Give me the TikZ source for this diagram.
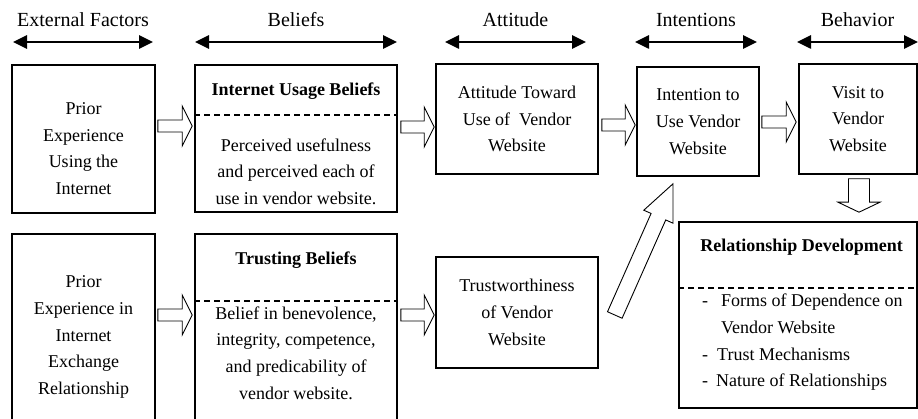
\documentclass[tikz,border=0pt]{standalone}
\usepackage{fontspec}
\setmainfont{Liberation Serif}
\usetikzlibrary{calc,arrows.meta,positioning}
\newcommand{\bodysize}{\fontsize{18}{26.7}\selectfont}
\newcommand{\hdrsize}{\fontsize{20}{24}\selectfont}
\tikzset{
  box/.style={draw=black, line width=1.6pt, inner sep=0pt},
  txt/.style={align=center, font=\bodysize, inner sep=0pt},
  ttl/.style={font=\bodysize\bfseries, inner sep=0pt},
  hdr/.style={font=\hdrsize, inner sep=0pt},
  span/.style={{Triangle[length=14pt,width=13pt]}-{Triangle[length=14pt,width=13pt]}, line width=2.6pt},
  divider/.style={line width=1.3pt, dash pattern=on 6pt off 4pt},
  hollow/.style={draw=black, line width=0.9pt, fill=white}
}
% hollow block arrow: from, to, shaft half width, head half width, head length
\newcommand{\hollowarrow}[5]{%
  \coordinate (ha-base) at ($(#2)!#5!(#1)$);
  \draw[hollow] ($(#1)!#3!90:(#2)$) -- ($(ha-base)!#3!90:(#2)$) -- ($(ha-base)!#4!90:(#2)$)
    -- (#2) -- ($(ha-base)!#4!-90:(#2)$) -- ($(ha-base)!#3!-90:(#2)$) -- ($(#1)!#3!-90:(#2)$) -- cycle;
}

\begin{document}
\begin{tikzpicture}[x=1pt, y=-1pt]
  \useasboundingbox (0,0) rectangle (918,419);
  \clip (0,0) rectangle (918,419);

  % stage headers
  \foreach \name/\xa/\xb [count=\i] in {External Factors/13/153, Beliefs/195/397,
      Attitude/445/586, Intentions/635/757, Behavior/797/918} {
    \coordinate (hl\i) at (\xa,42);
    \coordinate (hr\i) at (\xb,42);
    \draw[span] (hl\i) -- (hr\i);
    \node[hdr, anchor=base] (hd\i) at ($(hl\i)!.5!(hr\i)+(0,-15)$) {\name};
  }

  % top row
  \node[box, minimum width=143pt, minimum height=148pt] (prior1) at (83.5,139) {};
  \node[txt] (prior1txt) at (83.5,148.5) {Prior\\Experience\\Using the\\Internet};

  \node[box, minimum width=202pt, minimum height=147pt] (usage) at (296,138.5) {};
  \node[ttl, below=18pt of usage.north] (usagettl) {Internet Usage Beliefs};
  \draw[divider] (usage.west |- 0,115) -- (usage.east |- 0,115);
  \node[txt] (usagetxt) at (296,171.5) {Perceived usefulness\\and perceived each of\\use in vendor website.};

  \node[box, txt, minimum width=162pt, minimum height=110pt] (attitude) at (517,119)
    {Attitude Toward\\Use of~ Vendor\\Website};
  \node[box, txt, minimum width=122pt, minimum height=109pt] (intention) at (698,121.5)
    {Intention to\\Use Vendor\\Website};
  \node[box, txt, minimum width=118pt, minimum height=110pt] (visit) at (858,119)
    {Visit to\\Vendor\\Website};

  % bottom row
  \node[box, txt, minimum width=143pt, minimum height=206pt] (prior2) at (83.5,337)
    {Prior\\Experience in\\Internet\\Exchange\\Relationship};

  \node[box, minimum width=202pt, minimum height=206pt] (trusting) at (296,337) {};
  \node[ttl, below=18pt of trusting.north] (trustingttl) {Trusting Beliefs};
  \draw[divider] (trusting.west |- 0,301) -- (trusting.east |- 0,301);
  \node[txt] (trustingtxt) at (296,353)
    {Belief in benevolence,\\integrity, competence,\\and predicability of\\vendor website.};

  \node[box, txt, minimum width=162pt, minimum height=111pt] (trust) at (517,312.5)
    {Trustworthiness\\of Vendor\\Website};

  \node[box, minimum width=238pt, minimum height=186pt] (reldev) at (798,315) {};
  \node[ttl, anchor=north west] (reldevttl) at ($(reldev.north west)+(22,18)$) {Relationship Development};
  \draw[divider] (reldev.west |- 0,288) -- (reldev.east |- 0,288);
  \node[txt, align=left, anchor=west] (reldevtxt) at (702,342.5)
    {-\hspace{13pt}Forms of Dependence on\\\hspace*{19pt}Vendor Website\\-\hspace{9pt}Trust Mechanisms\\-\hspace{8pt}Nature of Relationships};

  % block arrows
  \coordinate (a1s) at ($(prior1.east |- 0,126)+(2,0)$);
  \coordinate (a1e) at ($(usage.west |- 0,126)+(-2,0)$);
  \hollowarrow{a1s}{a1e}{6pt}{20pt}{10pt}
  \coordinate (a2s) at ($(usage.east |- 0,127)+(3,0)$);
  \coordinate (a2e) at ($(attitude.west |- 0,127)+(-1,0)$);
  \hollowarrow{a2s}{a2e}{6pt}{20pt}{10pt}
  \coordinate (a3s) at ($(attitude.east |- 0,125)+(3,0)$);
  \coordinate (a3e) at ($(intention.west |- 0,125)+(-1,0)$);
  \hollowarrow{a3s}{a3e}{6pt}{20pt}{10pt}
  \coordinate (a4s) at ($(intention.east |- 0,122)+(2,0)$);
  \coordinate (a4e) at ($(visit.west |- 0,122)+(-2,0)$);
  \hollowarrow{a4s}{a4e}{6pt}{20pt}{10pt}
  \coordinate (b1s) at ($(prior2.east |- 0,315)+(2,0)$);
  \coordinate (b1e) at ($(trusting.west |- 0,315)+(-2,0)$);
  \hollowarrow{b1s}{b1e}{6pt}{20pt}{10pt}
  \coordinate (b2s) at ($(trusting.east |- 0,315)+(3,0)$);
  \coordinate (b2e) at ($(trust.west |- 0,315)+(-1,0)$);
  \hollowarrow{b2s}{b2e}{6pt}{20pt}{10pt}
  \coordinate (dns) at ($(visit.south)+(1,4)$);
  \coordinate (dne) at ($(visit.south |- reldev.north)+(1,-9)$);
  \hollowarrow{dns}{dne}{10.5pt}{21pt}{10pt}
  \coordinate (dgs) at ($(trust.east)+(16,2.5)$);
  \coordinate (dge) at ($(intention.south)+(-25,7)$);
  \hollowarrow{dgs}{dge}{8pt}{16pt}{36pt}
\end{tikzpicture}
\end{document}
